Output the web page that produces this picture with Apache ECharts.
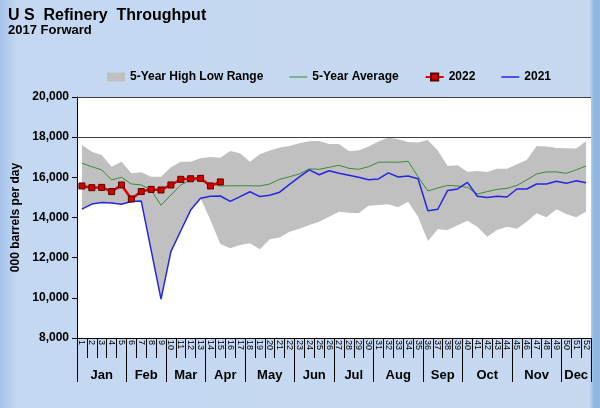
<!DOCTYPE html>
<html>
<head>
<meta charset="utf-8">
<script src="https://cdn.jsdelivr.net/npm/echarts@6/dist/echarts.min.js"></script>
<style>
html,body{margin:0;padding:0;}
body{width:600px;height:408px;overflow:hidden;
background:linear-gradient(to right,#a3c1ea 0px,#c5d8f1 16px,#c6d9f1 589px,#b3cdee 591px,#8fb5e4 594px,#8fb5e4 600px);}
#chart{width:600px;height:408px;}
</style>
</head>
<body>
<div id="chart"></div>
<script>
// ---- data ----
var weekLabels = ['1','2','3','4','5','6','7','8','9','10','11','12','13','14','15','16','17','18','19','20','21','22','23','24','25','26','27','28','29','30','31','32','33','34','35','36','37','38','39','40','41','42','43','44','45','46','47','48','49','50','51','52'];
var monthNames = ['Jan','Feb','Mar','Apr','May','Jun','Jul','Aug','Sep','Oct','Nov','Dec'];
var monthBounds = [0,5,9,13,17,22,26,30,35,39,44,49,52];
var rangeHigh = [17610,17280,17110,16530,16780,16200,16250,16030,16030,16500,16780,16780,16950,17010,16980,17310,17200,16780,17150,17330,17480,17560,17700,17800,17810,17660,17660,17310,17330,17530,17780,17980,17900,17760,17730,17860,17330,16570,16600,16280,16320,16270,16430,16430,16650,16860,17560,17530,17460,17450,17430,17800];
var rangeLow = [14420,14670,14750,14720,14660,14800,14820,12380,9940,12300,13340,14370,14960,13880,12680,12470,12630,12720,12420,12920,13010,13290,13440,13630,13790,14040,14290,14240,14210,14590,14620,14660,14510,14790,14040,12830,13420,13380,13610,13840,13540,13040,13380,13540,13440,13790,14210,14010,14410,14180,14010,14290];
var avg5 = [16700,16530,16370,15870,16000,15670,15620,15370,14610,15120,15620,15870,15870,15700,15570,15580,15580,15580,15570,15670,15900,16030,16170,16420,16400,16500,16600,16450,16400,16530,16750,16760,16750,16800,16030,15320,15470,15600,15570,15500,15170,15290,15400,15450,15600,15870,16170,16270,16270,16200,16370,16570];
var y2022 = [15570,15485,15500,15290,15620,14920,15290,15400,15370,15620,15900,15930,15950,15570,15770];
var y2021 = [14420,14670,14750,14720,14660,14800,14820,12380,9940,12300,13340,14370,14960,15060,15070,14800,15040,15280,15040,15110,15260,15650,16020,16370,16130,16330,16200,16100,16000,15880,15920,16220,16020,16070,15930,14340,14410,15350,15420,15750,15060,14990,15060,15020,15420,15420,15670,15670,15800,15700,15830,15730];
var yTicks = {min: 8000, max: 20000, interval: 2000};
var refLines = [18000, 20000];

// ---- derived ----
var rangeSpan = rangeHigh.map(function(h, i){ return h - rangeLow[i]; });
var monthCenters = [];
for (var i = 0; i < monthNames.length; i++) monthCenters.push((monthBounds[i] + monthBounds[i+1]) / 2);

var FONT = '"Liberation Sans", Arial, sans-serif';
var chart = echarts.init(document.getElementById('chart'), null, {renderer: 'canvas'});
chart.setOption({
  animation: false,
  backgroundColor: 'transparent',
  textStyle: {fontFamily: FONT},
  title: {
    text: 'U S  Refinery  Throughput',
    subtext: '2017 Forward',
    left: 3, top: 3, itemGap: 0,
    textStyle: {fontFamily: FONT, fontSize: 16, fontWeight: 'bold', color: '#000'},
    subtextStyle: {fontFamily: FONT, fontSize: 13, fontWeight: 'bold', color: '#000'}
  },
  legend: {
    left: 102, top: 66,
    itemGap: 26, itemWidth: 18, itemHeight: 9,
    symbolKeepAspect: true,
    textStyle: {fontFamily: FONT, fontSize: 12, fontWeight: 'bold', color: '#000'},
    data: [
      {name: '5-Year High Low Range', icon: 'rect'},
      {name: '5-Year Average', icon: 'path://M0,0H18V1H0Z'},
      {name: '2022'},
      {name: '2021', icon: 'path://M0,0H24V2H0Z'}
    ]
  },
  grid: {left: 77, right: 9, top: 97, bottom: 70, show: true, backgroundColor: '#ffffff', borderWidth: 0},
  xAxis: [{
    type: 'category',
    data: weekLabels,
    boundaryGap: true,
    axisLine: {lineStyle: {color: '#000', width: 1}},
    axisTick: {show: true, interval: 0, length: 20, lineStyle: {color: '#000'}},
    axisLabel: {interval: 0, rotate: -90, fontSize: 9, margin: 2, color: '#000', fontFamily: FONT},
    splitLine: {show: false}
  }, {
    type: 'value',
    position: 'bottom',
    min: 0, max: 52,
    axisLine: {show: false},
    axisTick: {show: true, customValues: monthBounds, length: 44, lineStyle: {color: '#000'}},
    axisLabel: {
      customValues: monthCenters, margin: 31, fontSize: 13, fontWeight: 'bold', color: '#000', fontFamily: FONT,
      formatter: function(v){ var idx = monthCenters.indexOf(v); return idx >= 0 ? monthNames[idx] : ''; }
    },
    splitLine: {show: false}
  }],
  yAxis: {
    type: 'value',
    min: yTicks.min, max: yTicks.max, interval: yTicks.interval,
    name: '000 barrels per day',
    nameLocation: 'middle', nameGap: 52,
    nameTextStyle: {fontFamily: FONT, fontSize: 12, fontWeight: 'bold', color: '#000'},
    axisLine: {show: true, lineStyle: {color: '#000'}},
    axisTick: {show: true, length: 5, lineStyle: {color: '#000'}},
    axisLabel: {fontSize: 12, fontWeight: 'bold', color: '#000', margin: 8, fontFamily: FONT,
      formatter: function(v){ return v.toLocaleString('en-US'); }},
    splitLine: {show: false}
  },
  series: [{
    name: 'low',
    type: 'line',
    stack: 'range',
    data: rangeLow,
    symbol: 'none',
    lineStyle: {width: 0, opacity: 0},
    silent: true,
    markLine: {
      silent: true, symbol: 'none', label: {show: false},
      lineStyle: {color: '#404040', width: 1, type: 'solid'},
      data: refLines.map(function(v){ return {yAxis: v}; })
    }
  }, {
    name: '5-Year High Low Range',
    type: 'line',
    stack: 'range',
    data: rangeSpan,
    symbol: 'none',
    itemStyle: {color: '#c0c0c0'},
    lineStyle: {width: 0, opacity: 0},
    areaStyle: {color: '#c0c0c0', opacity: 1}
  }, {
    name: '5-Year Average',
    type: 'line',
    data: avg5,
    symbol: 'none',
    itemStyle: {color: '#3a8a3a'},
    lineStyle: {color: '#3a8a3a', width: 1}
  }, {
    name: '2021',
    type: 'line',
    data: y2021,
    symbol: 'none',
    itemStyle: {color: '#2626e0'},
    lineStyle: {color: '#2626e0', width: 1.5}
  }, {
    name: '2022',
    type: 'line',
    data: y2022,
    symbol: 'rect',
    symbolSize: 6,
    itemStyle: {color: '#d40000', borderColor: '#5a0000', borderWidth: 1},
    lineStyle: {color: '#e00000', width: 2.5}
  }]
});
</script>
</body>
</html>
